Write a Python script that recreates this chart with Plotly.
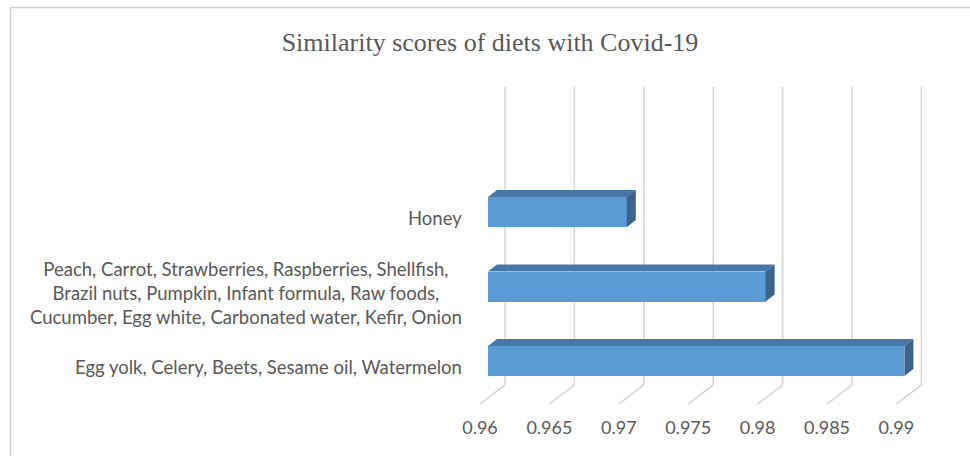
import plotly.graph_objects as go

# ---- data -------------------------------------------------------------
categories = [
    "Egg yolk, Celery, Beets, Sesame oil, Watermelon",
    "Peach, Carrot, Strawberries, Raspberries, Shellfish,<br>"
    "Brazil nuts, Pumpkin, Infant formula, Raw foods,<br>"
    "Cucumber, Egg white, Carbonated water, Kefir, Onion",
    "Honey",
]
scores = [0.99, 0.98, 0.97]
tick_values = [0.96, 0.965, 0.97, 0.975, 0.98, 0.985, 0.99]
tick_labels = ["0.96", "0.965", "0.97", "0.975", "0.98", "0.985", "0.99"]
baseline = tick_values[0]

# ---- layout geometry (pixels) ----------------------------------------
W, H = 970, 456
L, R, T, B = 466, 940, 80, 410
X_PX = 13880.0          # pixels per score unit
Y_PX = 74.5             # pixels per category step
FRONT_X0_PX = 480       # pixel column of the baseline on the front plane
CAT0_PX = 367           # pixel row of the first category on the front plane

x_lo = baseline - (FRONT_X0_PX - L) / X_PX
x_hi = x_lo + (R - L) / X_PX
y_lo = -(B - CAT0_PX) / Y_PX
y_hi = (CAT0_PX - T) / Y_PX


def dx(px):
    return px / X_PX


def dy(px):
    return px / Y_PX


# depth offsets (right, up) of the 3-D planes relative to the front plane
BAR_FRONT = (8, 6)
BAR_BACK = (17, 13)
WALL = (25, 19)
BAR_H = dy(30)
FLOOR_FRONT = -(404 - CAT0_PX) / Y_PX
WALL_TOP = (CAT0_PX - 87) / Y_PX

GRID = "#D9D9D9"
TEXT = "#595959"
FACE = "#5B9BD5"
TOP = "#4677A6"
SIDE = "#3A648C"

fig = go.Figure()

# back-wall gridlines plus their floor diagonals, kept under the bars
for t in tick_values:
    xb = t + dx(WALL[0])
    yb = FLOOR_FRONT + dy(WALL[1])
    fig.add_shape(type="line", xref="x", yref="y", x0=xb, x1=xb, y0=yb, y1=WALL_TOP,
                  line=dict(color=GRID, width=1.6), layer="below")
    fig.add_shape(type="line", xref="x", yref="y", x0=xb, x1=t, y0=yb, y1=FLOOR_FRONT,
                  line=dict(color=GRID, width=1.6), layer="below")

ycat = list(range(len(scores)))

# front faces of the bars
fig.add_trace(go.Bar(
    orientation="h",
    y=[c + dy(BAR_FRONT[1]) for c in ycat],
    x=[s - baseline for s in scores],
    base=baseline + dx(BAR_FRONT[0]),
    width=BAR_H,
    marker=dict(color=FACE, line=dict(width=0)),
    showlegend=False,
))

# top and right faces of each bar
for c, s in zip(ycat, scores):
    yf = c + dy(BAR_FRONT[1])
    yb = c + dy(BAR_BACK[1])
    xf0, xb0 = baseline + dx(BAR_FRONT[0]), baseline + dx(BAR_BACK[0])
    xf1, xb1 = s + dx(BAR_FRONT[0]), s + dx(BAR_BACK[0])
    fig.add_trace(go.Scatter(
        x=[xf0, xf1, xb1, xb0, xf0],
        y=[yf + BAR_H / 2, yf + BAR_H / 2, yb + BAR_H / 2, yb + BAR_H / 2, yf + BAR_H / 2],
        fill="toself", fillcolor=TOP, mode="lines", line=dict(width=0, color=TOP),
        hoverinfo="skip", showlegend=False))
    fig.add_trace(go.Scatter(
        x=[xf1, xf1, xb1, xb1, xf1],
        y=[yf - BAR_H / 2, yf + BAR_H / 2, yb + BAR_H / 2, yb - BAR_H / 2, yf - BAR_H / 2],
        fill="toself", fillcolor=SIDE, mode="lines", line=dict(width=0, color=SIDE),
        hoverinfo="skip", showlegend=False))

# category labels, right-aligned block with centred lines
for c, name in zip(ycat, categories):
    fig.add_annotation(x=0, xref="paper", y=c, yref="y", text=name,
                       xanchor="right", yanchor="middle", align="center",
                       xshift=-2, showarrow=False,
                       font=dict(family="Lato", size=18.5, color=TEXT))

# chart border
bx = (10.5 - L) / (R - L)
by = (B - 7.5) / (B - T)
fig.add_shape(type="line", xref="paper", yref="paper", x0=bx, x1=2, y0=by, y1=by,
              line=dict(color="#D0D0D0", width=1.5))
fig.add_shape(type="line", xref="paper", yref="paper", x0=bx, x1=bx, y0=by, y1=-2,
              line=dict(color="#D0D0D0", width=1.5))

fig.update_layout(
    width=W, height=H,
    margin=dict(l=L, r=W - R, t=T, b=H - B, pad=0),
    paper_bgcolor="white", plot_bgcolor="white",
    title=dict(text="Similarity scores of diets with Covid-19",
               x=490 / W, xanchor="center", y=1 - 42 / H, yanchor="middle",
               font=dict(family="Liberation Serif", size=26, color=TEXT)),
    xaxis=dict(range=[x_lo, x_hi], tickvals=tick_values, ticktext=tick_labels,
               showgrid=False, zeroline=False, showline=False,
               ticks="outside", ticklen=1, tickcolor="rgba(0,0,0,0)",
               tickfont=dict(family="Lato", size=18, color=TEXT)),
    yaxis=dict(range=[y_lo, y_hi], showticklabels=False, showgrid=False,
               zeroline=False, showline=False),
    bargap=0,
)

fig.write_html("out.html")
